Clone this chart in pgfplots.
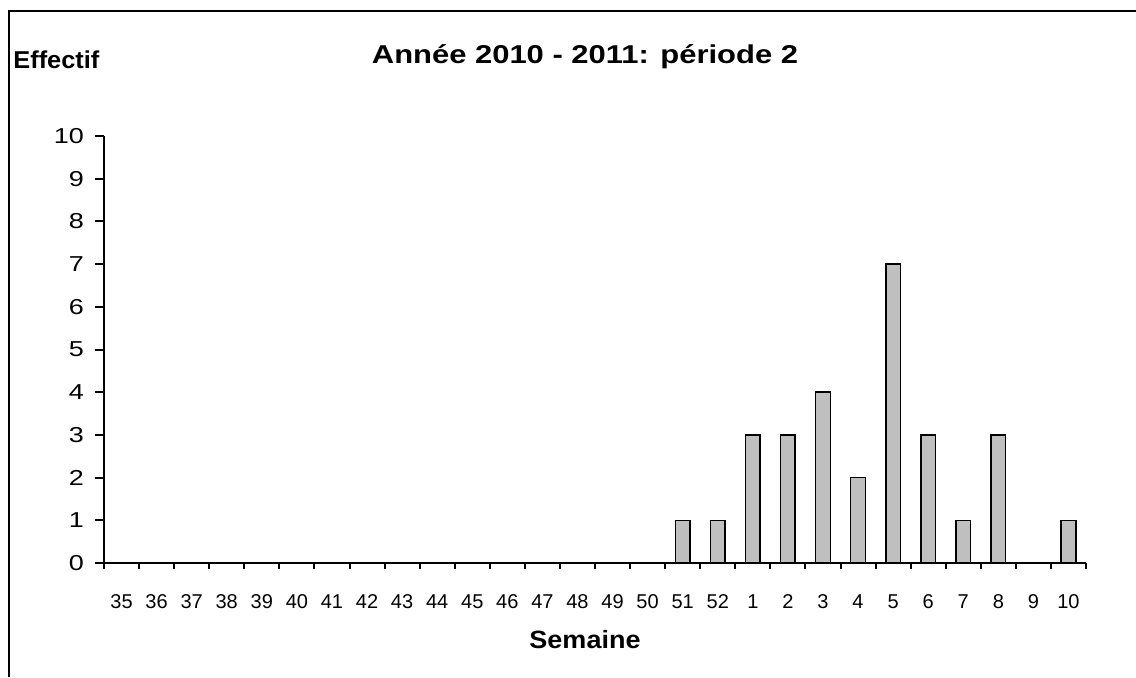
\documentclass[border=0pt]{standalone}
\usepackage{fontspec}
\setmainfont{Liberation Sans}
\newfontfamily\yfam[FakeStretch=1.25]{Liberation Sans}
\newfontfamily\tfam[FakeStretch=1.2]{Liberation Sans}
\newfontfamily\sfam[FakeStretch=1.08]{Liberation Sans}
\newfontfamily\efam[FakeStretch=1.04]{Liberation Sans}
\newcommand\yl{\yfam\fontsize{10.8}{12}\selectfont}
\usepackage{pgfplots}
\pgfplotsset{compat=1.18}
\begin{document}
\begin{tikzpicture}
\useasboundingbox (0,0) rectangle (568pt,-338.5pt);
\draw[line width=1.2pt] (4.6pt,-338.5pt) -- (4.6pt,-5.6pt) -- (568pt,-5.6pt);
\begin{axis}[
  at={(52pt,-281.5pt)}, anchor=south west,
  scale only axis, width=491pt, height=213.5pt,
  xmin=0, xmax=28, ymin=0, ymax=10,
  axis lines*=left,
  axis line style={line width=1.1pt},
  every tick/.style={black, line width=1pt},
  xtick={0.5,1.5,...,27.5},
  xticklabels={35,36,37,38,39,40,41,42,43,44,45,46,47,48,49,50,51,52,1,2,3,4,5,6,7,8,9,10},
  major x tick style={draw=none},
  minor xtick={0,1,...,28},
  minor tick length=3pt,
  ytick={0,1,...,10},
  yticklabel={\yl\pgfmathprintnumber{\tick}},
  major tick length=4.5pt,
  tick align=outside,
  /pgf/number format/assume math mode=true,
  xticklabel style={anchor=north, text height=7.3pt, text depth=0pt, yshift=-7.5pt},
  yticklabel style={xshift=-2pt},
  ybar, bar width=7.3pt,
  clip=false,
]
\addplot[fill=black!25, draw=black, line width=0.75pt] coordinates {
(0.5,0) (1.5,0) (2.5,0) (3.5,0) (4.5,0) (5.5,0) (6.5,0) (7.5,0) (8.5,0) (9.5,0)
(10.5,0) (11.5,0) (12.5,0) (13.5,0) (14.5,0) (15.5,0) (16.5,1) (17.5,1) (18.5,3) (19.5,3)
(20.5,4) (21.5,2) (22.5,7) (23.5,3) (24.5,1) (25.5,3) (26.5,0) (27.5,1)};
\end{axis}
\node[font=\tfam\bfseries\fontsize{12.9}{15}\selectfont] at (292.5pt,-28.5pt) {Année 2010 - 2011: période 2};
\node[font=\efam\bfseries\fontsize{12.2}{14}\selectfont, anchor=west, inner sep=0pt] at (6.5pt,-30pt) {Effectif};
\node[font=\sfam\bfseries\fontsize{12.5}{15}\selectfont] at (292.5pt,-320pt) {Semaine};
\end{tikzpicture}
\end{document}
